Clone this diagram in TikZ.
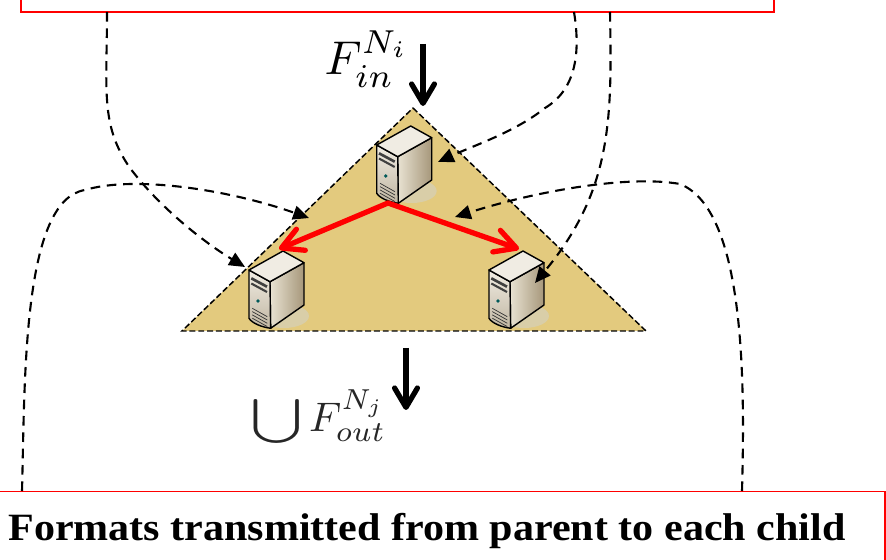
\documentclass[tikz,border=0pt]{standalone}
\usepackage{amsmath,amssymb}
\usepackage{fontspec}
\setmainfont{Liberation Serif}
\usetikzlibrary{arrows.meta}

\definecolor{domainfill}{HTML}{E3CA7E}
\definecolor{shadowtan}{HTML}{D9CEA8}
\definecolor{caselight}{HTML}{F0ECE3}
\definecolor{casemid}{HTML}{E8E2D2}
\definecolor{casedark}{HTML}{A6977A}

\begin{document}
\begin{tikzpicture}[
        x=0.02cm, y=-0.02cm,
        % Styles
        formatbox/.style={rectangle, draw=red, line width=1pt, fill=white, inner sep=0pt},
        domainzone/.style={draw=black, line width=0.85pt, dash pattern=on 3.4pt off 1.6pt, fill=domainfill},
        flowlink/.style={draw=black, line width=1.2pt, dash pattern=on 5.5pt off 3.8pt, -{Triangle[length=9pt,width=8pt]}},
        mainarrow/.style={draw=black, line width=3pt, -{Straight Barb[round,length=11pt,width=13pt]}},
        parentlink/.style={draw=red, line width=3pt, line cap=round, -{Straight Barb[round,length=12pt,width=13pt]}},
        serverpic/.pic={
            % Shadow
            \fill[shadowtan] (35,46) ellipse [x radius=25, y radius=12];
            % Faces
            \draw[line width=0.8pt, line join=round, left color=casemid, right color=casedark]
                (21,11.7) -- (55,-7.3) -- (55,35) -- (21.6,58.3) -- cycle;
            \draw[line width=0.8pt, line join=round, top color=caselight, bottom color=casedark!70!white]
                (0,0) -- (21,11.7) -- (21.6,58.3) .. controls (12,57) and (3,53) .. (0,48.3) -- cycle;
            \draw[line width=0.8pt, line join=round, fill=caselight]
                (0,0) -- (34,-19) -- (55,-7.3) -- (21,11.7) -- cycle;
            % Front panel
            \draw[line width=1.5pt, black!75] (2.3,8.3) -- (18,16.7);
            \draw[line width=1.2pt, black!75] (2.3,13.5) -- (18,22);
            \fill[teal!70!black] (9,31) circle (1.8);
            \foreach \v in {0,3.3,6.6,9.9}
                \draw[line width=0.4pt, black!80] (3.3,38.3+\v) -- (18.3,46.7+\v);
            % Anchors
            \coordinate (-foot) at (11.3,58);
            \coordinate (-head) at (30,-21);
        }
    ]
    \useasboundingbox (0,0) rectangle (886,560);

    % ================= DOMAIN =================
    \coordinate (apex) at (413,108);
    \coordinate (cornerleft) at (182,331);
    \coordinate (cornerright) at (646,331);
    \draw[domainzone] (apex) -- (cornerright) -- (cornerleft) -- cycle;

    % Servers
    \pic (srvtop) at (376.7,145) {serverpic};
    \pic (srvleft) at (249,270) {serverpic};
    \pic (srvright) at (489,270) {serverpic};

    % Parent to children
    \draw[parentlink] (srvtop-foot) -- (srvleft-head);
    \draw[parentlink] (srvtop-foot) -- (srvright-head);

    % ================= FORMAT BOXES =================
    \node[formatbox, minimum width=753*0.02cm, minimum height=22*0.02cm] (parentbox) at (397.5,1) {};
    \node[formatbox, minimum width=895*0.02cm, minimum height=80*0.02cm] (childbox) at (437.5,531.5) {};
    \node[font=\fontsize{22}{24}\selectfont\bfseries, anchor=west, xscale=1.088, inner sep=0pt] (childtext) at (8,531) {Formats transmitted from parent to each child};

    % ================= RATES =================
    \coordinate (intop) at (423,44);
    \coordinate (inend) at (423,106);
    \coordinate (outtop) at (406,348);
    \coordinate (outend) at (406,410);
    \draw[mainarrow] (intop) -- (inend);
    \draw[mainarrow] (outtop) -- (outend);
    \node[scale=2.7] (ratein) at (367,59) {$F_{in}^{N_i}$};
    \node[scale=2.35, text=black!85] (rateout) at (319,418) {$\vcenter{\hbox{\scalebox{1.1}[0.76]{$\displaystyle\bigcup$}}}\, F_{out}^{N_j}$};

    % ================= DASHED LINKS =================
    \coordinate (atop) at (107,12);
    \coordinate (aend) at (245,267);
    \coordinate (btop) at (574,12);
    \coordinate (bmid) at (545,108);
    \coordinate (bend) at (438,162);
    \coordinate (ctop) at (610,12);
    \coordinate (cend) at (535,283);
    \coordinate (dtop) at (22,491);
    \coordinate (dmid) at (85,190);
    \coordinate (dend) at (309,218);
    \coordinate (etop) at (742,491);
    \coordinate (emid) at (680,184);
    \coordinate (eend) at (455,217);

    \draw[flowlink] (atop) .. controls (107,90) and (100,125) .. (130,168) .. controls (160,208) and (205,243) .. (aend);
    \draw[flowlink] (btop) .. controls (581,55) and (575,90) .. (bmid) .. controls (515,132) and (475,145) .. (bend);
    \draw[flowlink] (ctop) .. controls (612,120) and (612,190) .. (cend);
    \draw[flowlink] (dtop) .. controls (25,380) and (22,200) .. (dmid) .. controls (135,175) and (230,190) .. (dend);
    \draw[flowlink] (etop) .. controls (745,380) and (745,210) .. (emid) .. controls (630,175) and (540,190) .. (eend);

    \end{tikzpicture}
\end{document}
